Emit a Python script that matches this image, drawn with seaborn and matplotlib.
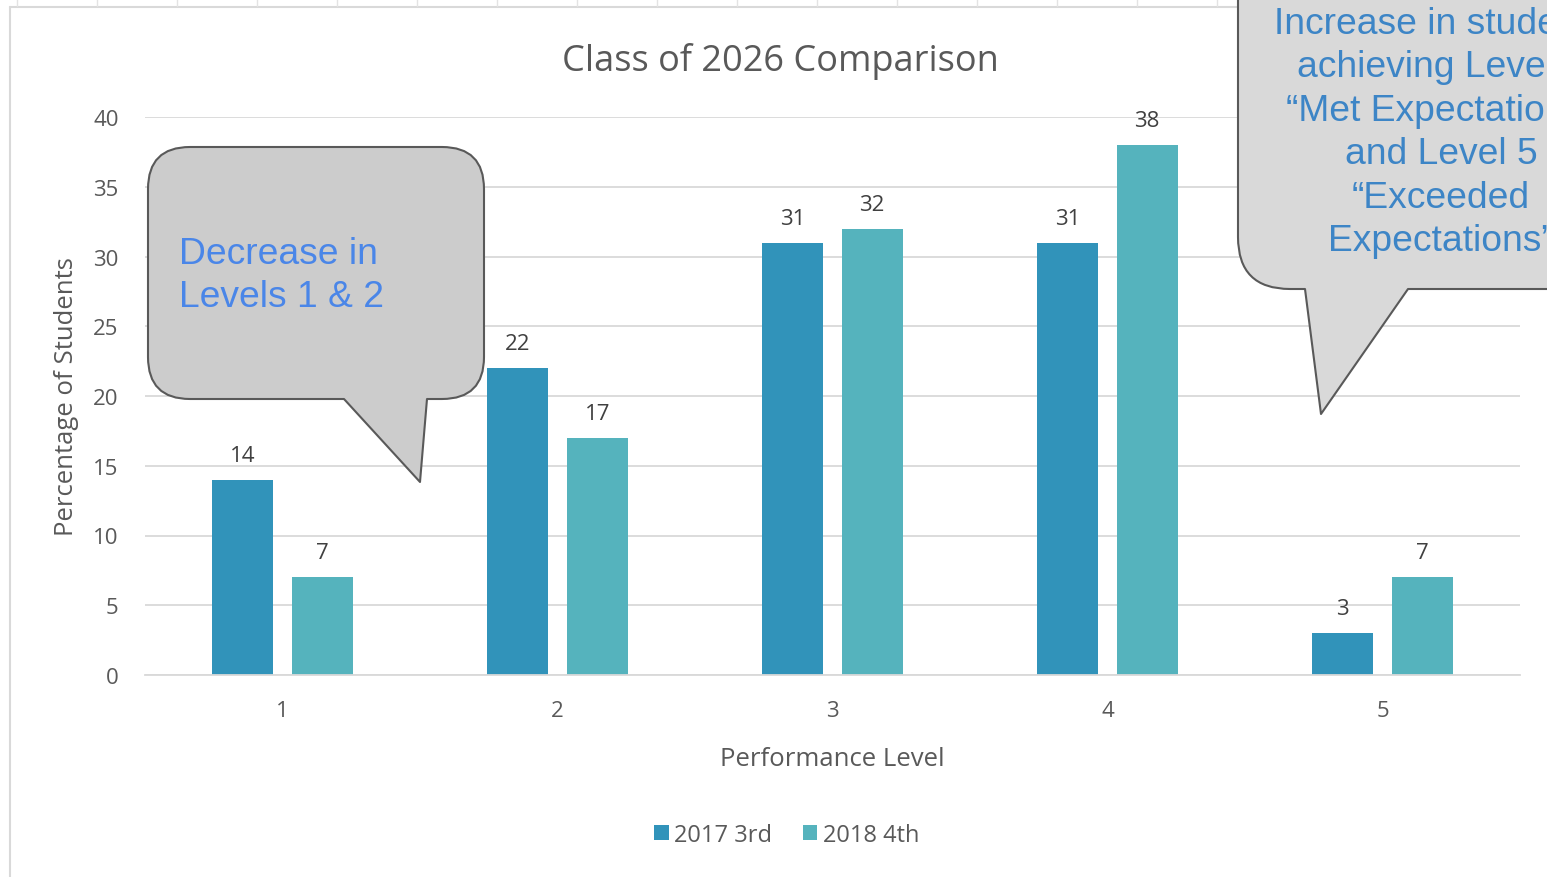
import matplotlib
matplotlib.use("Agg")
import matplotlib.pyplot as plt
import matplotlib.transforms as mtransforms
from matplotlib.patches import FancyBboxPatch, Polygon, Patch
from matplotlib.lines import Line2D
import seaborn as sns
import pandas as pd

# Data
levels = ["1", "2", "3", "4", "5"]
series_names = ["2017 3rd", "2018 4th"]
pct_2017 = [14, 22, 31, 31, 3]
pct_2018 = [7, 17, 32, 38, 7]
y_ticks = [0, 5, 10, 15, 20, 25, 30, 35, 40]

colors = ["#3193BA", "#55B3BD"]
text_grey = "#595959"

W, H, DPI = 1547, 878, 100

sns.set_theme(style="white")
plt.rcParams["font.family"] = ["Open Sans", "DejaVu Sans"]

df = pd.DataFrame({
    "Performance Level": levels * 2,
    "Series": [series_names[0]] * len(levels) + [series_names[1]] * len(levels),
    "Percentage of Students": pct_2017 + pct_2018,
})

fig = plt.figure(figsize=(W / DPI, H / DPI), dpi=DPI)
fig.patch.set_facecolor("white")

# pixel coordinates (origin top-left) -> figure
px = mtransforms.Affine2D().scale(1 / DPI, -1 / DPI).translate(0, H / DPI) + fig.dpi_scale_trans

ax = fig.add_axes([145 / W, (H - 676) / H, 1375 / W, 558 / H])
sns.barplot(data=df, x="Performance Level", y="Percentage of Students", hue="Series",
            palette=colors, width=0.578, gap=0.232, ax=ax, legend=False,
            saturation=1, errorbar=None, linewidth=0)

ax.set_xlim(-0.5, 4.5)
ax.set_ylim(0, 40)
ax.set_yticks(y_ticks)
ax.yaxis.grid(True, color="#D9D9D9", linewidth=1.3)
ax.set_axisbelow(True)
for s in ["top", "right", "left"]:
    ax.spines[s].set_visible(False)
ax.spines["bottom"].set_color("#D9D9D9")
ax.spines["bottom"].set_linewidth(1.3)
ax.tick_params(axis="both", length=0, colors=text_grey, labelsize=16)
ax.tick_params(axis="y", pad=19)
ax.tick_params(axis="x", pad=18)
ax.set_xlabel("Performance Level", fontsize=18.5, color=text_grey)
ax.set_ylabel("Percentage of Students", fontsize=18.5, color=text_grey)
ax.xaxis.set_label_coords(0.5, (676 - 760) / 558)
ax.xaxis.label.set_va("center")
ax.yaxis.set_label_coords((67 - 145) / 1375, 0.5)
ax.yaxis.label.set_va("center")

for container in ax.containers:
    ax.bar_label(container, labels=[f"{v:.0f}" for v in container.datavalues],
                 padding=10, fontsize=16, color="#404040")

fig.text(780 / W, 1 - 61 / H, "Class of 2026 Comparison", ha="center", va="center",
         fontsize=26, color=text_grey)

handles = [Patch(facecolor=c, edgecolor="none") for c in colors]
fig.legend(handles, series_names, loc="center", bbox_to_anchor=(787 / W, 1 - 836 / H),
           ncol=2, frameon=False, fontsize=17, handlelength=0.6, handleheight=0.6,
           handletextpad=0.25, columnspacing=1.3, labelcolor=text_grey)

# chart-area frame and the sheet grid peeking above it
fig.add_artist(Line2D([10, 10], [8, H], transform=px, color="#D9D9D9", lw=1.5))
fig.add_artist(Line2D([10, W], [8, 8], transform=px, color="#D9D9D9", lw=1.5))
for gx in range(17, W, 80):
    fig.add_artist(Line2D([gx, gx], [0, 7], transform=px, color="#E3E3E3", lw=1))


def callout(x0, y0, x1, y1, tail, face, radius):
    box = FancyBboxPatch((x0, y0), x1 - x0, y1 - y0,
                         boxstyle=f"round,pad=0,rounding_size={radius}",
                         transform=px, facecolor=face, edgecolor="#595959", lw=1.5,
                         zorder=20)
    fig.add_artist(box)
    (bx0, by), (tx, ty), (bx1, _) = tail
    fill = Polygon([(bx0, by - 5), (bx0, by), (tx, ty), (bx1, by), (bx1, by - 5)],
                   closed=True, transform=px, facecolor=face, edgecolor="none", zorder=21)
    fig.add_artist(fill)
    fig.add_artist(Line2D([bx0, tx, bx1], [by, ty, by], transform=px,
                          color="#595959", lw=1.5, zorder=22))


callout(148, 148, 484, 400, [(344, 400), (420, 483), (427, 400)], "#CCCCCC", 42)
fig.text(179 / W, 1 - 276 / H, "Decrease in\nLevels 1 & 2", ha="left", va="center",
         fontsize=26.8, color="#4A86E8", family=["Liberation Sans", "DejaVu Sans"],
         linespacing=1.31, zorder=30)

callout(1238, -60, 1620, 290, [(1305, 290), (1321, 415), (1408, 290)], "#D9D9D9", 52)
fig.text(1441 / W, 1 - 133 / H,
         "Increase in students\nachieving Level 4\n\u201cMet Expectations\u201d\nand Level 5\n"
         "\u201cExceeded\nExpectations\u201d",
         ha="center", va="center", multialignment="center", fontsize=26.8,
         color="#3D85C6", family=["Liberation Sans", "DejaVu Sans"],
         linespacing=1.31, zorder=30)

fig.savefig("out.png", dpi=DPI)
